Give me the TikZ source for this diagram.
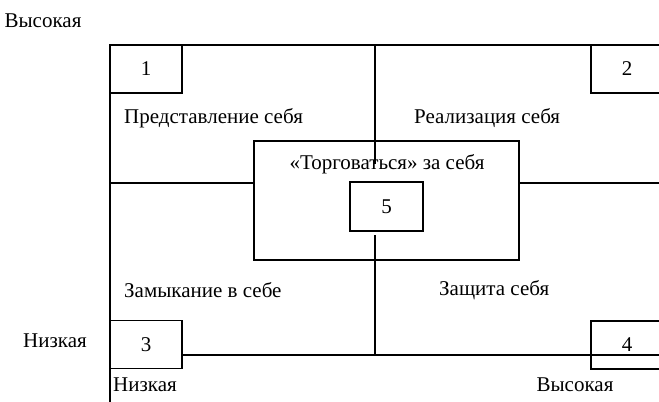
\documentclass[tikz,border=0pt]{standalone}
\usepackage{fontspec}
\setmainfont{Liberation Serif}
\begin{document}
\begin{tikzpicture}[x=1bp,y=-1bp,
  ln/.style={line width=1.3bp,line cap=rect},
  numbox/.style={draw,line width=1.3bp,minimum width=72bp,minimum height=48bp,inner sep=0pt,font=\fontsize{21bp}{25bp}\selectfont},
  lbl/.style={inner sep=0pt,font=\fontsize{21bp}{25bp}\selectfont}]
\useasboundingbox (0,0) rectangle (659,401);
\begin{scope}
\clip (0,0) rectangle (659,401);
% outer frame lines
\coordinate (tl) at (110,45);
\coordinate (tr) at (659,45);
\coordinate (lb) at (110,401);
\coordinate (br) at (659,355);
\coordinate (ml) at (110,183);
\coordinate (mr) at (659,183);
\coordinate (vt) at (375,45);
\coordinate (vtb) at (375,163);
\coordinate (vb) at (375,236);
\coordinate (vbb) at (375,355);
\node[draw,line width=1.3bp,minimum width=265bp,minimum height=119bp,inner sep=0pt] (center) at (386.5,200.5) {};
\draw[ln] (tl) -- (tr);
\draw[ln] (tl) -- (lb);
\draw[ln] (ml) -- (center.west |- ml);
\draw[ln] (center.east |- mr) -- (mr);
\draw[ln] (vt) -- (vtb);
\draw[ln] (vb) -- (vbb);
\node[numbox,fill=white] (b1) at (146,69) {1};
\node[numbox,fill=white] (b2) at (627,69) {2};
\node[numbox,fill=white] (b3) at (146,344.5) {3};
\draw[ln] (b3.east |- br) -- (br);
\node[numbox] (b4) at (627,345) {4};
\node[numbox,minimum width=73bp,minimum height=49bp,fill=white] (b5) at (386.5,206.5) {5};
\end{scope}
\node[lbl,anchor=west] (t1) at (124,118) {Представление себя};
\node[lbl,anchor=west] (t2) at (414,118) {Реализация себя};
\node[lbl] (t5) at (387,164) {«Торговаться» за себя};
\node[lbl,anchor=west] (t3) at (124,290) {Замыкание в себе};
\node[lbl,anchor=west] (t4) at (439,290) {Защита себя};
\node[lbl] (hy) at (43,21) {Высокая};
\node[lbl] (ly) at (55,341) {Низкая};
\node[lbl,anchor=west] (lx) at (113,385) {Низкая};
\node[lbl] (hx) at (575,385) {Высокая};
\end{tikzpicture}
\end{document}
